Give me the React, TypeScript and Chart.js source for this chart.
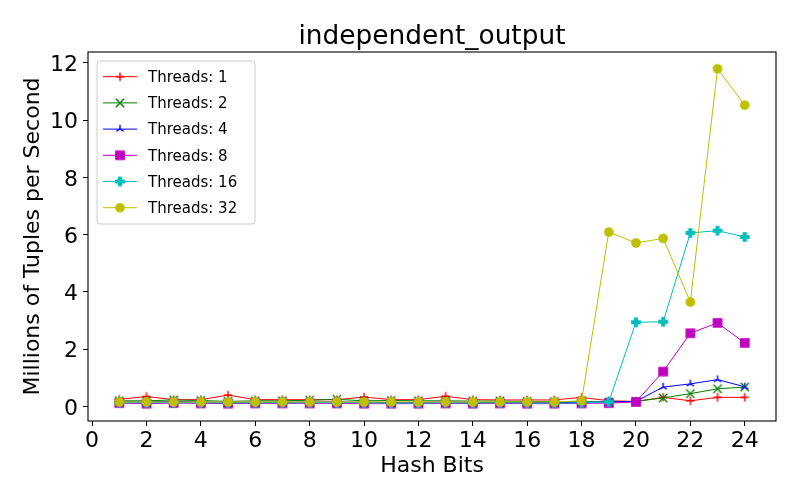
import React, { useEffect, useRef } from 'react';
import { Chart, registerables } from 'chart.js';

Chart.register(...registerables);

const hashBits = [1, 2, 3, 4, 5, 6, 7, 8, 9, 10, 11, 12, 13, 14, 15, 16, 17, 18, 19, 20, 21, 22, 23, 24];

const threads1 = [0.25, 0.35, 0.24, 0.24, 0.4, 0.24, 0.24, 0.24, 0.24, 0.33, 0.24, 0.24, 0.36, 0.24, 0.23, 0.23, 0.23, 0.32, 0.2, 0.18, 0.32, 0.2, 0.32, 0.32];
const threads2 = [0.2, 0.2, 0.23, 0.21, 0.18, 0.2, 0.2, 0.22, 0.25, 0.2, 0.21, 0.2, 0.2, 0.19, 0.19, 0.18, 0.17, 0.17, 0.16, 0.18, 0.3, 0.45, 0.62, 0.68];
const threads4 = [0.16, 0.16, 0.18, 0.16, 0.14, 0.15, 0.15, 0.16, 0.16, 0.15, 0.14, 0.14, 0.16, 0.14, 0.14, 0.14, 0.14, 0.14, 0.16, 0.18, 0.68, 0.79, 0.94, 0.69];
const threads8 = [0.12, 0.1, 0.12, 0.11, 0.1, 0.11, 0.11, 0.11, 0.11, 0.1, 0.1, 0.1, 0.11, 0.1, 0.11, 0.1, 0.1, 0.11, 0.12, 0.16, 1.22, 2.56, 2.92, 2.22];
const threads16 = [0.14, 0.13, 0.14, 0.13, 0.13, 0.13, 0.13, 0.13, 0.13, 0.13, 0.12, 0.12, 0.13, 0.12, 0.13, 0.12, 0.12, 0.13, 0.16, 2.94, 2.96, 6.06, 6.14, 5.92];
const threads32 = [0.16, 0.16, 0.16, 0.16, 0.16, 0.16, 0.16, 0.16, 0.16, 0.16, 0.16, 0.16, 0.16, 0.16, 0.16, 0.16, 0.16, 0.2, 6.09, 5.71, 5.87, 3.65, 11.79, 10.52];

const seriesLabels = ['Threads: 1', 'Threads: 2', 'Threads: 4', 'Threads: 8', 'Threads: 16', 'Threads: 32'];
const seriesValues = [threads1, threads2, threads4, threads8, threads16, threads32];
const seriesColors = ['#ff0000', '#008000', '#0000ff', '#bf00bf', '#00bfbf', '#bfbf00'];
const seriesMarkers = ['plus', 'x', 'tri', 'square', 'pfill', 'circle'];

const xTicks = [0, 2, 4, 6, 8, 10, 12, 14, 16, 18, 20, 22, 24];
const yTicks = [0, 2, 4, 6, 8, 10, 12];

const titleText = 'independent_output';
const xTitle = 'Hash Bits';
const yTitle = 'Millions of Tuples per Second';

const FONT = "'DejaVu Sans', sans-serif";

function makeMarker(kind: string, color: string): HTMLCanvasElement {
  const S = 16;
  const c = document.createElement('canvas');
  c.width = S;
  c.height = S;
  const g = c.getContext('2d')!;
  const m = S / 2;
  const r = 4.17;
  g.strokeStyle = color;
  g.fillStyle = color;
  g.lineWidth = 1.39;
  g.lineJoin = 'miter';
  g.beginPath();
  if (kind === 'plus') {
    g.moveTo(m - r, m);
    g.lineTo(m + r, m);
    g.moveTo(m, m - r);
    g.lineTo(m, m + r);
    g.stroke();
  } else if (kind === 'x') {
    g.moveTo(m - r, m - r);
    g.lineTo(m + r, m + r);
    g.moveTo(m - r, m + r);
    g.lineTo(m + r, m - r);
    g.stroke();
  } else if (kind === 'tri') {
    g.moveTo(m, m);
    g.lineTo(m, m - r);
    g.moveTo(m, m);
    g.lineTo(m - r * 0.866, m + r * 0.5);
    g.moveTo(m, m);
    g.lineTo(m + r * 0.866, m + r * 0.5);
    g.stroke();
  } else if (kind === 'square') {
    g.rect(m - r, m - r, 2 * r, 2 * r);
    g.fill();
    g.stroke();
  } else if (kind === 'pfill') {
    const a = r / 3;
    const pts = [
      [-a, -r], [a, -r], [a, -a], [r, -a], [r, a], [a, a],
      [a, r], [-a, r], [-a, a], [-r, a], [-r, -a], [-a, -a],
    ];
    pts.forEach(([px, py], i) => {
      if (i === 0) g.moveTo(m + px, m + py);
      else g.lineTo(m + px, m + py);
    });
    g.closePath();
    g.fill();
    g.stroke();
  } else {
    g.arc(m, m, r, 0, Math.PI * 2);
    g.fill();
    g.stroke();
  }
  return c;
}

export default function App() {
  const ref = useRef<HTMLCanvasElement | null>(null);

  useEffect(() => {
    if (!ref.current) return;
    const markers = seriesMarkers.map((k, i) => makeMarker(k, seriesColors[i]));

    const framePlugin = {
      id: 'frameAndLegend',
      afterDraw(chart: any) {
        const { ctx, chartArea } = chart;
        const { left, right, top, bottom } = chartArea;
        ctx.save();
        ctx.strokeStyle = '#000000';
        ctx.lineWidth = 1.1;
        ctx.strokeRect(left, top, right - left, bottom - top);

        // legend
        const bx = left + 9;
        const by = top + 9;
        const bw = 158;
        const bh = 163;
        const rad = 3;
        ctx.beginPath();
        ctx.moveTo(bx + rad, by);
        ctx.lineTo(bx + bw - rad, by);
        ctx.arcTo(bx + bw, by, bx + bw, by + rad, rad);
        ctx.lineTo(bx + bw, by + bh - rad);
        ctx.arcTo(bx + bw, by + bh, bx + bw - rad, by + bh, rad);
        ctx.lineTo(bx + rad, by + bh);
        ctx.arcTo(bx, by + bh, bx, by + bh - rad, rad);
        ctx.lineTo(bx, by + rad);
        ctx.arcTo(bx, by, bx + rad, by, rad);
        ctx.closePath();
        ctx.fillStyle = 'rgba(255,255,255,0.8)';
        ctx.fill();
        ctx.strokeStyle = '#cccccc';
        ctx.lineWidth = 1;
        ctx.stroke();

        ctx.font = `15px ${FONT}`;
        ctx.textBaseline = 'middle';
        ctx.textAlign = 'left';
        seriesLabels.forEach((lab, i) => {
          const y = by + 15.7 + i * 26.2;
          ctx.strokeStyle = seriesColors[i];
          ctx.lineWidth = 1;
          ctx.beginPath();
          ctx.moveTo(bx + 6, y);
          ctx.lineTo(bx + 40, y);
          ctx.stroke();
          const mk = markers[i];
          ctx.drawImage(mk, bx + 23 - mk.width / 2, y - mk.height / 2);
          ctx.fillStyle = '#000000';
          ctx.fillText(lab, bx + 51, y + 1.5);
        });
        ctx.restore();
      },
    };

    const datasets = seriesValues.map((vals, i) => ({
      label: seriesLabels[i],
      data: hashBits.map((x, j) => ({ x, y: vals[j] })),
      borderColor: seriesColors[i],
      backgroundColor: seriesColors[i],
      borderWidth: 1,
      pointStyle: markers[i] as any,
      pointRadius: 5,
      pointHoverRadius: 5,
      tension: 0,
      fill: false,
      order: seriesValues.length - 1 - i,
    }));

    const tickFont = { family: FONT, size: 22 };

    const chart = new Chart(ref.current, {
      type: 'line',
      data: { datasets },
      plugins: [framePlugin],
      options: {
        animation: false,
        responsive: false,
        events: [],
        layout: { padding: { top: 0, right: 24, bottom: 0, left: 0 } },
        plugins: {
          legend: { display: false },
          tooltip: { enabled: false },
          title: {
            display: true,
            fullSize: false,
            text: titleText,
            color: '#000000',
            font: { family: FONT, size: 26.4, weight: 'normal', lineHeight: 1 },
            padding: { top: 23.6, bottom: 2 },
          },
        },
        scales: {
          x: {
            type: 'linear',
            min: -0.15,
            max: 25.15,
            afterBuildTicks: (scale: any) => {
              scale.ticks = xTicks.map((v) => ({ value: v }));
            },
            afterFit: (scale: any) => {
              scale.height = 79;
            },
            ticks: {
              color: '#000000',
              font: tickFont,
              maxRotation: 0,
              autoSkip: false,
              padding: 2.5,
            },
            grid: {
              drawOnChartArea: false,
              drawTicks: true,
              tickLength: 5,
              color: '#000000',
              lineWidth: 1,
            },
            border: { display: false },
            title: {
              display: true,
              text: xTitle,
              color: '#000000',
              font: { family: FONT, size: 22, lineHeight: 1 },
              padding: { top: 0, bottom: 23 },
            },
          },
          y: {
            type: 'linear',
            min: -0.505,
            max: 12.376,
            afterBuildTicks: (scale: any) => {
              scale.ticks = yTicks.map((v) => ({ value: v }));
            },
            afterFit: (scale: any) => {
              scale.width = 88;
            },
            ticks: {
              color: '#000000',
              font: tickFont,
              padding: 5,
              labelOffset: 2.5,
            },
            grid: {
              drawOnChartArea: false,
              drawTicks: true,
              tickLength: 5,
              color: '#000000',
              lineWidth: 1,
            },
            border: { display: false },
            title: {
              display: true,
              text: yTitle,
              color: '#000000',
              font: { family: FONT, size: 22, lineHeight: 1 },
              padding: { top: 22, bottom: 0 },
            },
          },
        },
      } as any,
    });

    return () => chart.destroy();
  }, []);

  return (
    <div style={{ position: 'fixed', left: 0, top: 0, width: 800, height: 500, background: '#ffffff' }}>
      <canvas ref={ref} width={800} height={500} style={{ display: 'block' }} />
    </div>
  );
}
